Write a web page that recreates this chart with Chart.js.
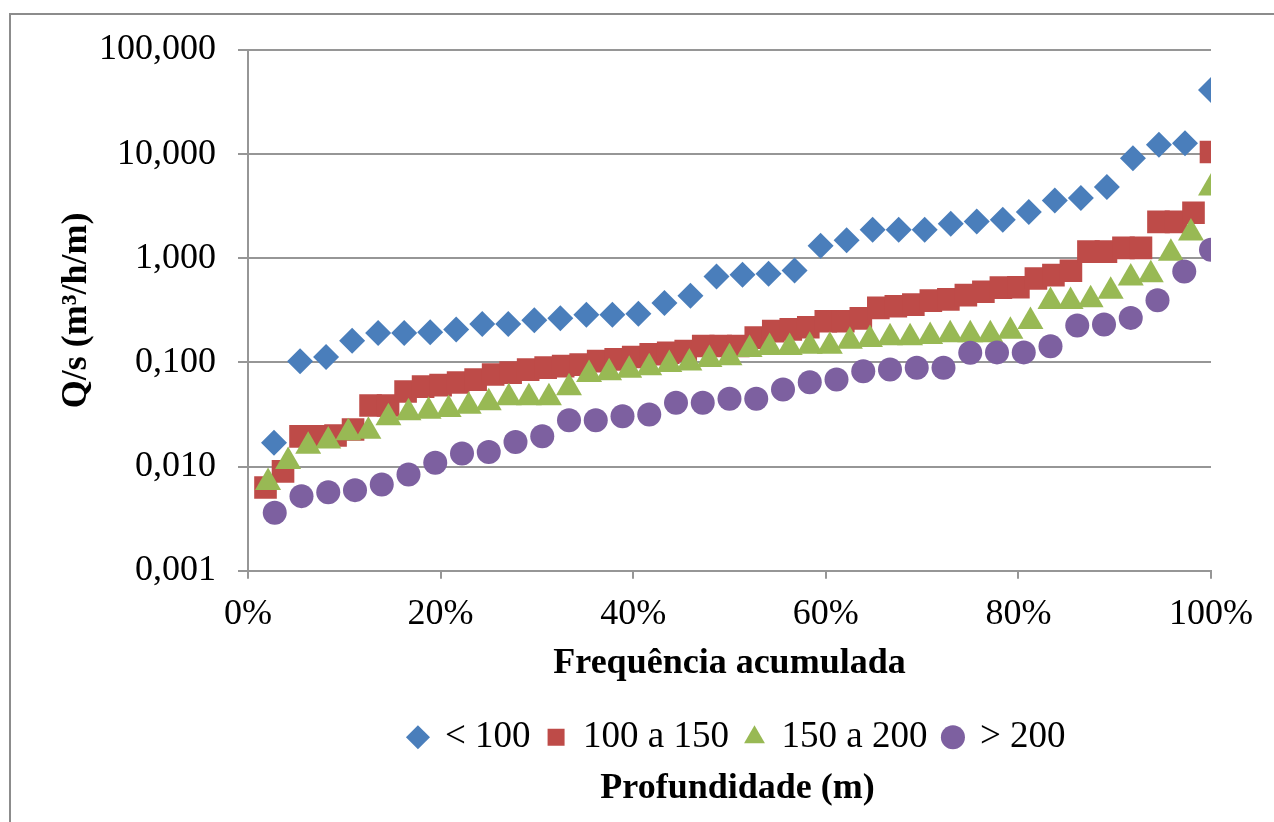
<!DOCTYPE html>
<html>
<head>
<meta charset="utf-8">
<script src="https://cdn.jsdelivr.net/npm/chart.js@4"></script>
<style>
html, body { margin: 0; padding: 0; background: #fff; overflow: hidden; }
#wrap { position: relative; width: 1274px; height: 822px; }
#frame { position: absolute; left: 9px; top: 13px; width: 1300px; height: 900px; border: 2px solid #8c8c8c; box-sizing: border-box; pointer-events: none; }
canvas { position: absolute; left: 0; top: 0; }
</style>
</head>
<body>
<div id="wrap">
  <canvas id="myChart" width="1274" height="822"></canvas>
  <div id="frame"></div>
</div>
<script>
// Profundidade (m) classes
const seriesNames = ['< 100', '100 a 150', '150 a 200', '> 200'];

// Q/s (m3/h/m), sorted, one value per well
const below100 = [
  0.017, 0.103, 0.113, 0.162, 0.192, 0.192, 0.195, 0.207, 0.234, 0.234,
  0.254, 0.266, 0.288, 0.288, 0.294, 0.372, 0.438, 0.670, 0.697, 0.711,
  0.766, 1.32, 1.49, 1.88, 1.88, 1.88, 2.15, 2.26, 2.34, 2.78,
  3.59, 3.79, 4.83, 9.16, 12.3, 12.7, 41.3
];
const from100to150 = [
  0.0063, 0.0090, 0.0195, 0.0195, 0.0199, 0.0227, 0.0386, 0.0386, 0.0526, 0.0587,
  0.0607, 0.0642, 0.0685, 0.0766, 0.080, 0.0855, 0.0893, 0.0923, 0.0955, 0.103,
  0.107, 0.113, 0.120, 0.124, 0.129, 0.144, 0.144, 0.144, 0.173, 0.200,
  0.208, 0.218, 0.249, 0.249, 0.265, 0.334, 0.347, 0.359, 0.392, 0.403,
  0.443, 0.478, 0.523, 0.528, 0.640, 0.689, 0.760, 1.16, 1.16, 1.26,
  1.26, 2.24, 2.24, 2.74, 10.5
];
const from150to200 = [
  0.00706, 0.0112, 0.0157, 0.0176, 0.0211, 0.0219, 0.0294, 0.0329, 0.0340, 0.0353,
  0.0380, 0.0410, 0.0458, 0.0458, 0.0458, 0.0571, 0.0765, 0.0795, 0.0842, 0.0888,
  0.0955, 0.0991, 0.107, 0.111, 0.133, 0.139, 0.139, 0.143, 0.143, 0.160,
  0.166, 0.173, 0.173, 0.178, 0.185, 0.185, 0.185, 0.199, 0.247, 0.384,
  0.386, 0.401, 0.482, 0.648, 0.697, 1.12, 1.75, 4.72
];
const above200 = [
  0.00361, 0.00521, 0.00569, 0.00595, 0.00675, 0.00842, 0.0109, 0.0134, 0.0138, 0.0172,
  0.0196, 0.0279, 0.0279, 0.0305, 0.0316, 0.0410, 0.0410, 0.0448, 0.0448, 0.0550,
  0.0646, 0.0686, 0.0824, 0.0855, 0.0888, 0.0888, 0.124, 0.125, 0.125, 0.143,
  0.226, 0.231, 0.268, 0.395, 0.748, 1.21
];

const yTickValues = [0.001, 0.01, 0.1, 1, 10, 100];
const xTickValues = [0, 0.2, 0.4, 0.6, 0.8, 1];

// cumulative frequency of each sorted value
function cumulative(values) {
  return values.map((v, i) => ({ x: (i + 1) / values.length, y: v }));
}

const serif = 'Liberation Serif, Times New Roman, serif';
const gridColor = '#969696';

// legend and bottom title are centred on the plot area, not the canvas
const centerOnPlot = {
  id: 'centerOnPlot',
  afterLayout(chart) {
    const shift = 8;
    const { left, right } = chart.chartArea;
    [chart.legend, chart.titleBlock].forEach((box) => {
      if (!box) return;
      box.left = left + shift;
      box.right = right + shift;
      box.width = right - left;
    });
  }
};

const ctx = document.getElementById('myChart');

new Chart(ctx, {
  type: 'scatter',
  data: {
    datasets: [{
      label: seriesNames[0],
      data: cumulative(below100),
      pointStyle: 'rectRot',
      pointRadius: 13,
      backgroundColor: '#4a7ebb',
      borderColor: '#4a7ebb',
      borderWidth: 0,
      order: 4
    }, {
      label: seriesNames[1],
      data: cumulative(from100to150),
      pointStyle: 'rect',
      pointRadius: 16,
      backgroundColor: '#be4b48',
      borderColor: '#be4b48',
      borderWidth: 0,
      order: 3
    }, {
      label: seriesNames[2],
      data: cumulative(from150to200),
      pointStyle: 'triangle',
      pointRadius: 15,
      backgroundColor: '#98b954',
      borderColor: '#98b954',
      borderWidth: 0,
      order: 2
    }, {
      label: seriesNames[3],
      data: cumulative(above200),
      pointStyle: 'circle',
      pointRadius: 12,
      backgroundColor: '#7d60a0',
      borderColor: '#7d60a0',
      borderWidth: 0,
      order: 1
    }]
  },
  options: {
    responsive: false,
    animation: false,
    layout: {
      padding: { left: 0, right: 63, top: 50, bottom: 12 }
    },
    plugins: {
      tooltip: { enabled: false },
      legend: {
        position: 'bottom',
        labels: {
          usePointStyle: true,
          boxWidth: 17,
          boxHeight: 17,
          padding: 17,
          color: '#000',
          font: { family: serif, size: 37 },
          sort: (a, b) => a.datasetIndex - b.datasetIndex
        }
      },
      title: {
        display: true,
        position: 'bottom',
        text: 'Profundidade (m)',
        color: '#000',
        font: { family: serif, size: 36, weight: 'bold' },
        padding: { top: 1, bottom: 0 }
      }
    },
    scales: {
      x: {
        type: 'linear',
        min: 0,
        max: 1,
        afterBuildTicks: (scale) => { scale.ticks = xTickValues.map(v => ({ value: v })); },
        afterFit: (scale) => { scale.height = 131; },
        ticks: {
          callback: (v) => Math.round(v * 100) + '%',
          color: '#000',
          font: { family: serif, size: 36 },
          padding: 14,
          maxRotation: 0,
          autoSkip: false
        },
        grid: { drawOnChartArea: false, drawTicks: true, tickLength: 8, color: gridColor, lineWidth: 2 },
        border: { color: gridColor, width: 2 },
        title: {
          display: true,
          text: 'Frequência acumulada',
          color: '#000',
          font: { family: serif, size: 36, weight: 'bold' },
          padding: { top: 0, bottom: 16 }
        }
      },
      y: {
        type: 'logarithmic',
        min: 0.001,
        max: 100,
        afterBuildTicks: (scale) => { scale.ticks = yTickValues.map(v => ({ value: v })); },
        afterFit: (scale) => { scale.width = 248; },
        ticks: {
          callback: (v) => Number(v).toFixed(3).replace('.', ','),
          color: '#000',
          font: { family: serif, size: 36 },
          padding: 22,
          autoSkip: false
        },
        grid: { color: gridColor, lineWidth: 2, tickLength: 10 },
        border: { color: gridColor, width: 2 },
        title: {
          display: true,
          text: 'Q/s (m³/h/m)',
          color: '#000',
          font: { family: serif, size: 36, weight: 'bold' },
          padding: { top: 55, bottom: 0 }
        }
      }
    }
  },
  plugins: [centerOnPlot]
});
</script>
</body>
</html>
